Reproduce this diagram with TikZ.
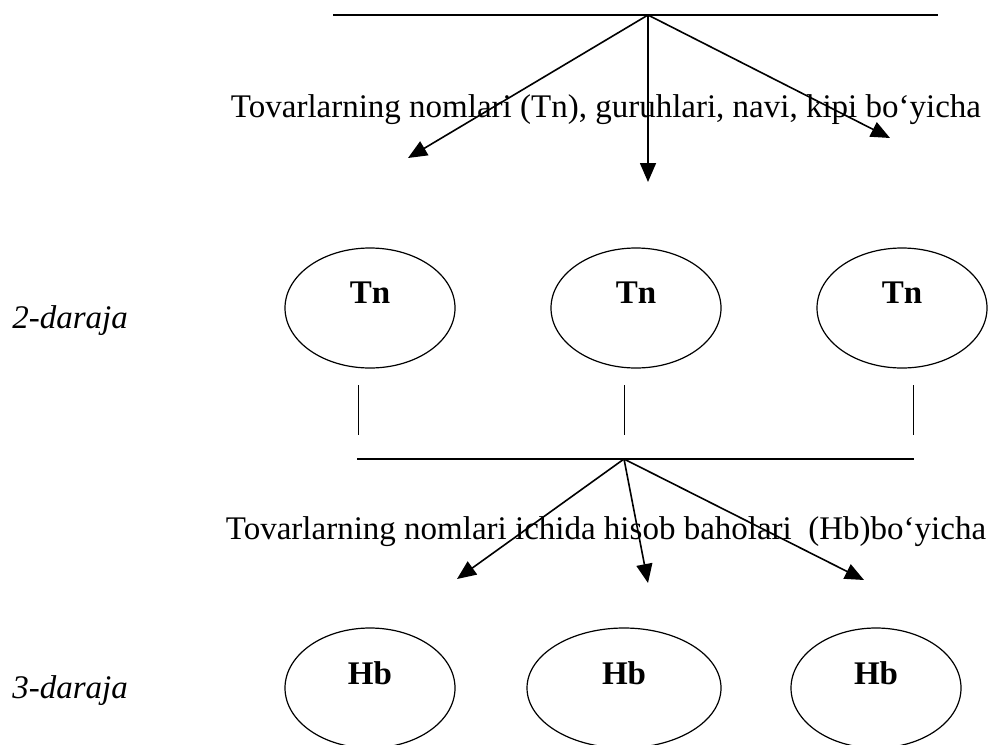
\documentclass[tikz,border=0pt]{standalone}
\usepackage{fontspec}
\setmainfont{Liberation Serif}
\usetikzlibrary{shapes.geometric,arrows.meta}

\begin{document}
\begin{tikzpicture}[x=0.5pt,y=-0.5pt,
  oval/.style={draw, ellipse, line width=0.6pt, minimum width=85pt, minimum height=60pt, inner sep=0pt},
  arr/.style={-{Triangle[length=9.5pt,width=8pt]}, line width=0.8pt},
  bar/.style={line width=0.8pt},
  txt/.style={font=\fontsize{16.5}{20}\selectfont, anchor=base, inner sep=0pt},
  lvl/.style={font=\fontsize{16.5}{20}\selectfont\itshape, anchor=base west, inner sep=0pt},
  tag/.style={font=\fontsize{16.5}{20}\selectfont\bfseries, inner sep=0pt}]
\useasboundingbox (0,0) rectangle (989,744);

% yuqori chiziq va strelkalar
\coordinate (t1l) at (333,15);
\coordinate (t1r) at (938,15);
\coordinate (t1) at (648,15);
\draw[bar] (t1l) -- (t1r);
\node[txt] (txt1) at (606,117) {Tovarlarning nomlari (Tn), guruhlari, navi, kipi bo‘yicha};
\coordinate (a1) at (408,158);
\coordinate (a2) at (648,182);
\coordinate (a3) at (890,138);
\draw[arr] (t1) -- (a1);
\draw[arr] (t1) -- (a2);
\draw[arr] (t1) -- (a3);

% 2-daraja
\node[lvl] (lv2) at (12,328) {2-daraja};
\node[oval] (tn1) at (370,308) {};
\node[oval] (tn2) at (636,308) {};
\node[oval] (tn3) at (902,308) {};
\node[tag] (tn1t) at (370,293) {Tn};
\node[tag] (tn2t) at (636,293) {Tn};
\node[tag] (tn3t) at (902,293) {Tn};

\coordinate (v1a) at (358,385);
\coordinate (v1b) at (358,435);
\coordinate (v2a) at (624,385);
\coordinate (v2b) at (624,435);
\coordinate (v3a) at (913,385);
\coordinate (v3b) at (913,435);
\draw[line width=0.5pt] (v1a) -- (v1b);
\draw[line width=0.5pt] (v2a) -- (v2b);
\draw[line width=0.5pt] (v3a) -- (v3b);

% pastki chiziq va strelkalar
\coordinate (t2l) at (357,459);
\coordinate (t2r) at (914,459);
\coordinate (t2) at (624,459);
\draw[bar] (t2l) -- (t2r);
\node[txt] (txt2) at (606,539) {Tovarlarning nomlari ichida hisob baholari\ \ (Hb)bo‘yicha};
\coordinate (b1) at (457,579);
\coordinate (b2) at (648,583);
\coordinate (b3) at (864,580);
\draw[arr] (t2) -- (b1);
\draw[arr] (t2) -- (b2);
\draw[arr] (t2) -- (b3);

% 3-daraja
\node[lvl] (lv3) at (12,698) {3-daraja};
\node[oval] (hb1) at (370,688) {};
\node[oval, minimum width=97pt] (hb2) at (624,688) {};
\node[oval] (hb3) at (876,688) {};
\node[tag] (hb1t) at (370,673) {Hb};
\node[tag] (hb2t) at (624,673) {Hb};
\node[tag] (hb3t) at (876,673) {Hb};
\end{tikzpicture}
\end{document}
